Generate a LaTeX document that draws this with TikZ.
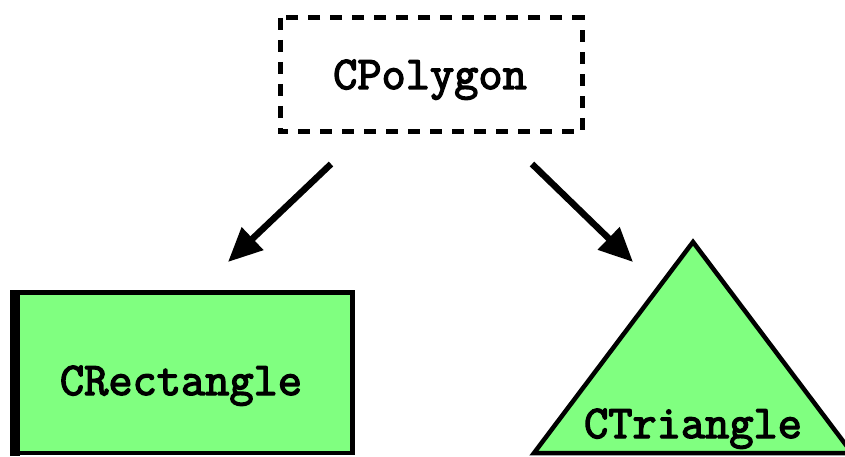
\documentclass[tikz,border=0pt]{standalone}
\usepackage{fontspec}
\newfontfamily\classfont[FakeBold=3]{Latin Modern Mono}
\usetikzlibrary{arrows.meta}
\definecolor{shapegreen}{HTML}{80FF80}
\tikzset{
  classlabel/.style={font=\classfont\fontsize{47}{47}\selectfont, anchor=base, inner sep=0pt},
  abstractbox/.style={draw=black, line width=5pt, dash pattern=on 12pt off 10pt, inner sep=0pt},
  shapeline/.style={draw=black, line width=4.5pt, fill=shapegreen, line join=miter},
  inherit/.style={line width=6.5pt, -{Triangle[length=34pt,width=30pt]}}
}
\begin{document}
\begin{tikzpicture}[x=1pt,y=-1pt]
  \useasboundingbox (0,0) rectangle (845,457);

  % abstract base class
  \draw[abstractbox] (280,18) rectangle (582,132);
  \node[classlabel] (poly) at (430,89) {CPolygon};

  % rectangle subclass
  \coordinate (rectNW) at (14.5,292.5);
  \coordinate (rectSE) at (352.5,453);
  \draw[shapeline] (rectNW) rectangle (rectSE);
  \fill[black] (10,290) rectangle (20,455.5);
  \node[classlabel] (rect) at (181,395) {CRectangle};

  % triangle subclass
  \coordinate (triTop) at (693,242);
  \coordinate (triLeft) at (534,453);
  \coordinate (triRight) at (852,453);
  \draw[shapeline] (triTop) -- (triLeft) -- (triRight) -- cycle;
  \node[classlabel] (tri) at (693,438) {CTriangle};

  % inheritance arrows
  \coordinate (fromL) at (331,164);
  \coordinate (toL) at (228,262);
  \coordinate (fromR) at (532,164);
  \coordinate (toR) at (633,262);
  \draw[inherit] (fromL) -- (toL);
  \draw[inherit] (fromR) -- (toR);
\end{tikzpicture}
\end{document}
